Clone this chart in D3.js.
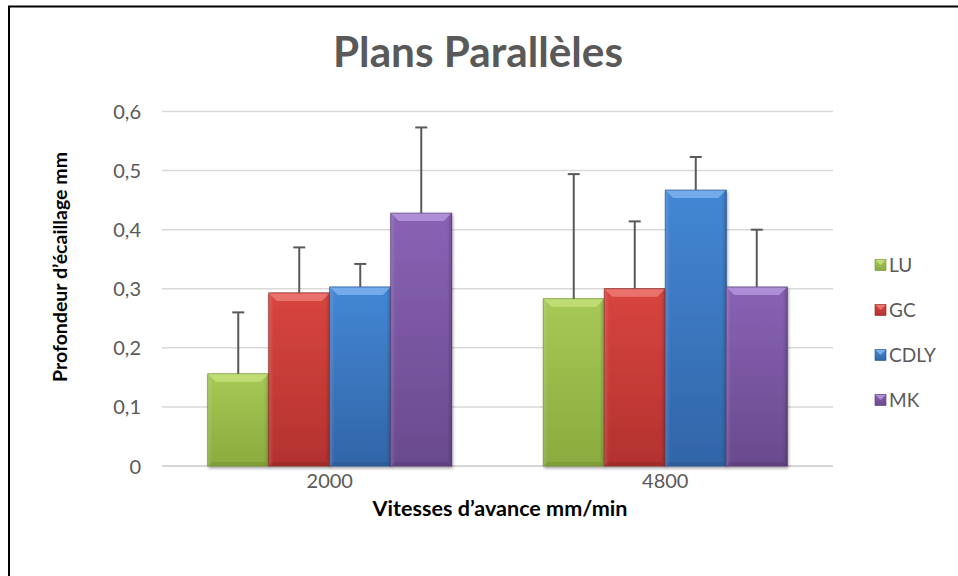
<!DOCTYPE html>
<html>
<head>
<meta charset="utf-8">
<script src="https://cdn.jsdelivr.net/npm/d3@7"></script>
<style>
  html, body { margin: 0; padding: 0; background: #fff; }
  svg { display: block; }
</style>
</head>
<body>
<svg id="chart" width="958" height="576"></svg>
<script>
// Feed rates (categories) and measured spalling depth per tool
const categories = ["2000", "4800"];
const seriesNames = ["LU", "GC", "CDLY", "MK"];
const valuesLU   = [0.156, 0.283];
const valuesGC   = [0.293, 0.300];
const valuesCDLY = [0.303, 0.467];
const valuesMK   = [0.428, 0.303];
// Positive error amounts
const errLU   = [0.104, 0.211];
const errGC   = [0.077, 0.114];
const errCDLY = [0.039, 0.056];
const errMK   = [0.145, 0.097];
const yTicks = [0, 0.1, 0.2, 0.3, 0.4, 0.5, 0.6];

const seriesValues = [valuesLU, valuesGC, valuesCDLY, valuesMK];
const seriesErrors = [errLU, errGC, errCDLY, errMK];

// colour sets: body top, body bottom, bevel top, edge dark
const palette = [
  { top: "#a6c956", bottom: "#8aab3e", bevel: "#c4e07a", dark: "#71902e" },
  { top: "#d8453f", bottom: "#b3322f", bevel: "#ec7a74", dark: "#8e2624" },
  { top: "#4387d4", bottom: "#3265a8", bevel: "#7db3ee", dark: "#27538c" },
  { top: "#8962b4", bottom: "#6a4a8e", bevel: "#b596dc", dark: "#553a74" }
];

const svg = d3.select("#chart");
const fontUI = "Lato, 'Open Sans', 'DejaVu Sans', sans-serif";

// scale a text's font size so it spans the wanted length
function fitText(sel, target) {
  const node = sel.node();
  const size = parseFloat(sel.attr("font-size"));
  const len = node.getComputedTextLength();
  if (len > 0) sel.attr("font-size", (size * target / len).toFixed(2));
  return sel;
}

// outer frame
svg.append("rect")
  .attr("x", 9).attr("y", 6.5)
  .attr("width", 960).attr("height", 580)
  .attr("fill", "#fff").attr("stroke", "#000").attr("stroke-width", 2);

const plot = { left: 162, right: 833, top: 111.5, bottom: 466 };

const x0 = d3.scaleBand().domain(categories).range([plot.left, plot.right]).paddingInner(0).paddingOuter(0);
const groupInner = 4 / 5.5; // gap width 150%
const x1 = d3.scaleBand().domain(seriesNames)
  .range([0, x0.bandwidth() * groupInner]).padding(0);
const y = d3.scaleLinear().domain([0, 0.6]).range([plot.bottom, plot.top]);

// gradients
const defs = svg.append("defs");
palette.forEach((c, i) => {
  const g = defs.append("linearGradient").attr("id", "body" + i)
    .attr("x1", 0).attr("y1", 0).attr("x2", 0).attr("y2", 1);
  g.append("stop").attr("offset", "0%").attr("stop-color", c.top);
  g.append("stop").attr("offset", "100%").attr("stop-color", c.bottom);
  const h = defs.append("linearGradient").attr("id", "side" + i)
    .attr("x1", 0).attr("y1", 0).attr("x2", 1).attr("y2", 0);
  h.append("stop").attr("offset", "0%").attr("stop-color", "#fff").attr("stop-opacity", 0.14);
  h.append("stop").attr("offset", "8%").attr("stop-color", "#fff").attr("stop-opacity", 0);
  h.append("stop").attr("offset", "92%").attr("stop-color", "#000").attr("stop-opacity", 0);
  h.append("stop").attr("offset", "100%").attr("stop-color", "#000").attr("stop-opacity", 0.16);
});
const shadow = defs.append("filter").attr("id", "shadow")
  .attr("x", "-10%").attr("y", "-10%").attr("width", "130%").attr("height", "130%");
shadow.append("feGaussianBlur").attr("in", "SourceAlpha").attr("stdDeviation", 1.5);
shadow.append("feOffset").attr("dx", 1).attr("dy", 2).attr("result", "off");
shadow.append("feComponentTransfer").append("feFuncA").attr("type", "linear").attr("slope", 0.35);
const merge = shadow.append("feMerge");
merge.append("feMergeNode");
merge.append("feMergeNode").attr("in", "SourceGraphic");

// gridlines
svg.append("g").selectAll("line").data(yTicks).join("line")
  .attr("x1", plot.left).attr("x2", plot.right)
  .attr("y1", d => y(d)).attr("y2", d => y(d))
  .attr("stroke", d => d === 0 ? "#c8c8c8" : "#d9d9d9")
  .attr("stroke-width", 1.5);

// y axis labels
const yAxis = d3.axisLeft(y).tickValues(yTicks)
  .tickFormat(d => d3.format(".1f")(d).replace(".", ",").replace(/^0,0$/, "0"))
  .tickSize(0).tickPadding(0);
const yg = svg.append("g").attr("transform", `translate(141,0)`).call(yAxis);
yg.select(".domain").remove();
yg.selectAll("text").attr("font-family", fontUI).attr("font-size", 20)
  .attr("fill", "#595959").attr("dy", "0.35em");

// x axis labels
const xAxis = d3.axisBottom(x0).tickSize(0).tickPadding(0);
const xg = svg.append("g").attr("transform", `translate(0,481)`).call(xAxis);
xg.select(".domain").remove();
xg.selectAll("text").attr("font-family", fontUI).attr("font-size", 20)
  .attr("fill", "#595959").attr("dy", "0.35em");

// bars
const groupOffset = x0.bandwidth() * (1 - groupInner) / 2;
const barData = [];
categories.forEach((cat, ci) => {
  seriesNames.forEach((s, si) => {
    barData.push({ cat, s, si, v: seriesValues[si][ci], e: seriesErrors[si][ci] });
  });
});
const bw = x1.bandwidth();
const bevel = 8;
const bars = svg.append("g").selectAll("g").data(barData).join("g")
  .attr("transform", d => `translate(${x0(d.cat) + groupOffset + x1(d.s)},0)`);
bars.append("rect")
  .attr("x", 0).attr("y", d => y(d.v))
  .attr("width", bw).attr("height", d => y(0) - y(d.v))
  .attr("fill", d => `url(#body${d.si})`)
  .attr("stroke", d => palette[d.si].dark).attr("stroke-width", 0.8)
  .attr("filter", "url(#shadow)");
bars.append("rect")
  .attr("x", 0).attr("y", d => y(d.v))
  .attr("width", bw).attr("height", d => y(0) - y(d.v))
  .attr("fill", d => `url(#side${d.si})`);
// top bevel facet
bars.append("path")
  .attr("d", d => {
    const t = y(d.v);
    return `M0.5,${t + 0.5} L${bw - 0.5},${t + 0.5} L${bw - bevel},${t + bevel} L${bevel},${t + bevel} Z`;
  })
  .attr("fill", d => palette[d.si].bevel).attr("opacity", 0.85);
// bottom edge facet
bars.append("path")
  .attr("d", () => {
    const b = y(0);
    return `M0.5,${b - 0.5} L${bw - 0.5},${b - 0.5} L${bw - 4},${b - 4} L4,${b - 4} Z`;
  })
  .attr("fill", d => palette[d.si].dark).attr("opacity", 0.5);

// error bars (plus direction)
const capW = 12;
const eb = svg.append("g");
eb.selectAll("line.stem").data(barData).join("line").attr("class", "stem")
  .attr("x1", d => x0(d.cat) + groupOffset + x1(d.s) + bw / 2)
  .attr("x2", d => x0(d.cat) + groupOffset + x1(d.s) + bw / 2)
  .attr("y1", d => y(d.v)).attr("y2", d => y(d.v + d.e))
  .attr("stroke", "#595959").attr("stroke-width", 2);
eb.selectAll("line.cap").data(barData).join("line").attr("class", "cap")
  .attr("x1", d => x0(d.cat) + groupOffset + x1(d.s) + bw / 2 - capW / 2)
  .attr("x2", d => x0(d.cat) + groupOffset + x1(d.s) + bw / 2 + capW / 2)
  .attr("y1", d => y(d.v + d.e)).attr("y2", d => y(d.v + d.e))
  .attr("stroke", "#595959").attr("stroke-width", 2);

// title
fitText(svg.append("text").attr("x", 478).attr("y", 67)
  .attr("text-anchor", "middle")
  .attr("font-family", fontUI).attr("font-weight", "bold").attr("font-size", 36)
  .attr("fill", "#595959").text("Plans Parallèles"), 290);

// axis titles
fitText(svg.append("text").attr("x", 500).attr("y", 516)
  .attr("text-anchor", "middle")
  .attr("font-family", fontUI).attr("font-weight", "bold").attr("font-size", 18)
  .attr("fill", "#000").text("Vitesses d’avance mm/min"), 255);
fitText(svg.append("text")
  .attr("transform", "translate(67,267) rotate(-90)")
  .attr("text-anchor", "middle")
  .attr("font-family", fontUI).attr("font-weight", "bold").attr("font-size", 18)
  .attr("fill", "#000").text("Profondeur d’écaillage mm"), 230);

// legend
const legend = svg.append("g").selectAll("g").data(seriesNames).join("g")
  .attr("transform", (d, i) => `translate(875,${265 + i * 45})`);
legend.append("rect").attr("x", 0).attr("y", -5.5).attr("width", 11).attr("height", 11)
  .attr("fill", (d, i) => `url(#body${i})`)
  .attr("stroke", (d, i) => palette[i].dark).attr("stroke-width", 0.6);
legend.append("path").attr("d", "M0.5,-5 L10.5,-5 L5.5,0 Z")
  .attr("fill", (d, i) => palette[i].bevel).attr("opacity", 0.9);
legend.append("text").attr("x", 14).attr("y", 0).attr("dy", "0.35em")
  .attr("font-family", fontUI).attr("font-size", 19)
  .attr("fill", "#595959").text(d => d);
</script>
</body>
</html>
